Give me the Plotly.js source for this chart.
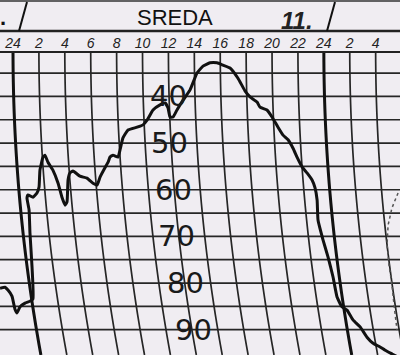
<!DOCTYPE html>
<html>
<head>
<meta charset="utf-8">
<script src="https://cdn.plot.ly/plotly-3.0.1.min.js"></script>
<style>html,body{margin:0;padding:0;background:#f0edf2;}#chart{width:400px;height:355px;}</style>
</head>
<body>
<div id="chart"></div>
<script>
// ---- data (hour on chart, relative humidity %) ----
const hours = [-1.00,-0.62,-0.39,-0.08,0.15,0.31,0.54,0.93,1.31,1.54,1.47,1.31,1.24,1.08,1.16,1.54,1.85,2.01,2.08,2.32,2.47,2.70,3.08,3.48,3.78,4.02,4.17,4.25,4.40,4.63,5.17,5.71,6.18,6.49,6.72,7.10,7.34,7.49,7.72,8.11,8.26,8.49,8.88,9.58,10.04,10.35,10.81,11.35,11.74,11.97,12.12,12.36,12.66,13.13,13.67,14.21,14.67,15.21,15.75,16.22,16.76,17.37,17.91,18.30,18.84,19.07,19.61,20.00,20.46,20.85,21.24,21.62,21.93,22.32,22.70,23.09,23.32,23.48,23.55,23.94,24.32,24.71,25.02,25.40,25.79,26.25,26.80,27.33,27.80,28.34,28.73,29.27,29.88];
const humidity = [81.1,80.9,81.5,82.8,85.6,86.4,85.1,84.3,83.9,83.4,76.6,69.3,64.3,61.8,61.1,61.6,60.7,59.4,55.8,53.0,52.6,54.1,55.8,58.6,61.6,63.3,62.6,57.9,56.4,56.0,57.1,57.5,58.6,59.0,57.3,55.3,54.1,53.0,52.6,53.0,51.5,48.9,47.2,46.6,46.1,45.1,42.9,41.8,41.4,42.5,44.4,44.4,42.9,40.8,38.6,35.0,33.5,32.8,32.8,33.3,33.9,36.1,38.8,40.1,41.2,42.3,42.9,44.4,46.6,48.3,49.3,51.1,53.0,55.1,56.4,57.9,59.6,62.2,66.5,70.8,74.4,78.7,83.0,85.1,85.8,87.9,89.4,91.6,92.9,93.7,94.4,95.2,96.1];
// faint dotted trace near right edge
const dotHours = [29.73,29.26,28.96,28.88,29.03,29.26,29.42,29.65];
const dotHumidity = [60.7,63.9,67.6,71.8,76.1,80.4,84.7,90.1];

const tickHours = [0,2,4,6,8,10,12,14,16,18,20,22,24,26,28];
const tickText = ['24','2','4','6','8','10','12','14','16','18','20','22','24','2','4'];
const gridHumidity = [35,40,45,50,55,60,65,70,75,80,85,90];
const scaleLabels = ['40','50','60','70','80','90'];
const scaleValues = [40,50,60,70,80,90];
const scaleLabelHours = [11.97,12.12,12.36,12.66,13.28,13.90];
const dayName = 'SREDA';
const dayNumber = '11.';

// ---- geometry helpers ----
const H = 355, TOP = 52;
const yTop = 30.48, yBot = 95.42;
function pixOfHum(h){ return (h - 19.336) / 0.21432; }
function arcOffset(h){ const u = pixOfHum(h) - 50; return 0.0003 * u * u / 12.95; }
function py(p){ return (H - p) / (H - TOP); }

const shapes = [];
// curved time lines
tickHours.forEach(t => {
  let d = '';
  for (let i = 0; i <= 30; i++) {
    const hv = yTop + (yBot - yTop) * i / 30;
    d += (i === 0 ? 'M' : 'L') + (t + arcOffset(hv)).toFixed(4) + ',' + hv.toFixed(3) + ' ';
  }
  const thick = (t % 24 === 0);
  shapes.push({type:'path', xref:'x', yref:'y', path:d, layer:'below',
    line:{color: thick ? '#111' : '#262626', width: thick ? 3 : 1.7}});
});
// humidity lines
gridHumidity.forEach(v => {
  shapes.push({type:'line', xref:'paper', yref:'y', x0:0, x1:1, y0:v, y1:v, layer:'below',
    line:{color:'#262626', width:1.7}});
});
// header lines
shapes.push({type:'line', xref:'paper', yref:'paper', x0:0, x1:1, y0:py(1), y1:py(1), line:{color:'#333', width:1.5}});
shapes.push({type:'line', xref:'paper', yref:'paper', x0:0, x1:1, y0:py(31), y1:py(31), line:{color:'#222', width:2.5}});
shapes.push({type:'line', xref:'paper', yref:'paper', x0:0, x1:1, y0:py(52), y1:py(52), line:{color:'#222', width:2}});
shapes.push({type:'line', xref:'paper', yref:'paper', x0:27/400, y0:py(2), x1:19/400, y1:py(31), line:{color:'#111', width:2}});
shapes.push({type:'line', xref:'paper', yref:'paper', x0:335/400, y0:py(2), x1:327/400, y1:py(31), line:{color:'#111', width:2}});

const annotations = [];
scaleLabels.forEach((s, i) => {
  annotations.push({text:s, xref:'x', yref:'y', x:scaleLabelHours[i], y:scaleValues[i],
    showarrow:false, xanchor:'center', yanchor:'middle',
    font:{family:'DejaVu Sans', size:29, color:'#1a1a1a'}});
});
annotations.push({text:dayName, xref:'paper', yref:'paper', x:175/400, y:py(17), showarrow:false,
  xanchor:'center', yanchor:'middle', font:{family:'Liberation Sans', size:22, color:'#111'}});
annotations.push({text:dayNumber, xref:'paper', yref:'paper', x:297/400, y:py(20), showarrow:false,
  xanchor:'center', yanchor:'middle', font:{family:'Liberation Sans', size:24, color:'#222', style:'italic', weight:700}});
annotations.push({text:'.', xref:'paper', yref:'paper', x:3/400, y:py(17), showarrow:false,
  xanchor:'center', yanchor:'middle', font:{family:'Liberation Sans', size:22, color:'#111', weight:700}});

const traces = [
  {x:hours, y:humidity, type:'scatter', mode:'lines', hoverinfo:'skip',
   line:{color:'#111', width:3, shape:'spline', smoothing:0.4}},
  {x:dotHours, y:dotHumidity, type:'scatter', mode:'lines', hoverinfo:'skip',
   line:{color:'#555', width:1.5, dash:'dot'}}
];

const layout = {
  width:400, height:355,
  margin:{l:0, r:0, t:TOP, b:0},
  paper_bgcolor:'#f0edf2', plot_bgcolor:'#f0edf2',
  showlegend:false,
  xaxis:{range:[-1.004, 29.88], side:'top', tickvals:tickHours, ticktext:tickText,
    showgrid:false, zeroline:false, showline:false, ticks:'',
    tickfont:{family:'Liberation Sans', size:14, color:'#222', style:'italic'}},
  yaxis:{range:[yBot, yTop], showgrid:false, zeroline:false, showline:false, showticklabels:false, ticks:''},
  shapes:shapes, annotations:annotations
};
Plotly.newPlot('chart', traces, layout, {staticPlot:true, displayModeBar:false});
</script>
</body>
</html>
